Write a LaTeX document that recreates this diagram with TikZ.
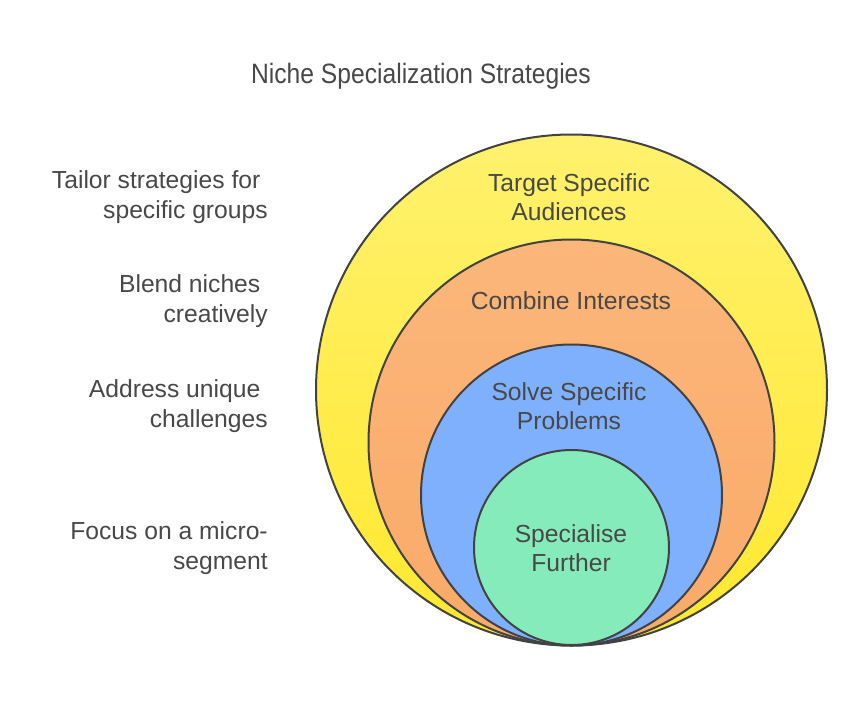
\documentclass[tikz,border=0pt]{standalone}
\usepackage{fontspec}
\setmainfont{Liberation Sans}
\newfontfamily\titlefont[FakeStretch=0.88]{Liberation Sans}
\usepackage{tikz}
\usepackage{xcolor}
\usetikzlibrary{positioning, calc}
\definecolor{textGrey}{RGB}{72, 72, 72}
\definecolor{edgeGrey}{RGB}{66, 66, 66}
\definecolor{yellowTop}{RGB}{255, 241, 110}
\definecolor{yellowBottom}{RGB}{255, 232, 46}
\definecolor{orangeTop}{RGB}{252, 182, 122}
\definecolor{orangeBottom}{RGB}{249, 170, 104}
\definecolor{blueFill}{RGB}{127, 176, 254}
\definecolor{greenFill}{RGB}{134, 235, 187}

\begin{document}
\begin{tikzpicture}[x=0.75pt, y=-0.75pt,
        ring/.style={draw=edgeGrey, line width=1.5pt},
        ringlabel/.style={text=textGrey, align=center, inner sep=0pt, font=\fontsize{18.5}{22}\selectfont},
        sidelabel/.style={text=textGrey, align=right, anchor=east, inner sep=0pt, font=\fontsize{18.5}{22}\selectfont}]
    \useasboundingbox (0,0) rectangle (858,708);

    % Title
    \node[text=textGrey, font=\titlefont\fontsize{21}{24}\selectfont] (title) at (421,76) {Niche Specialization Strategies};

    % Nested circles, all touching at the bottom
    \draw[ring, top color=yellowTop, bottom color=yellowBottom] (571.5,390) circle[radius=255.5];
    \draw[ring, top color=orangeTop, bottom color=orangeBottom] (571.5,442.5) circle[radius=203];
    \draw[ring, fill=blueFill] (571.5,495) circle[radius=150.5];
    \draw[ring, fill=greenFill] (571.5,547.5) circle[radius=97.5];

    % Circle labels
    \node[ringlabel] (target) at (569,197) {Target Specific\\Audiences};
    \node[ringlabel] (combine) at (571,301) {Combine Interests};
    \node[ringlabel] (solve) at (569,406) {Solve Specific\\Problems};
    \node[ringlabel] (further) at (571,548) {Specialise\\Further};

    % Side descriptions
    \node[sidelabel] (tailor) at (268,197) {Tailor strategies for\hspace*{0.3em}\\specific groups};
    \node[sidelabel] (blend) at (268,301) {Blend niches\hspace*{0.3em}\\creatively};
    \node[sidelabel] (address) at (268,406) {Address unique\hspace*{0.3em}\\challenges};
    \node[sidelabel] (focus) at (268,548) {Focus on a micro-\\segment};
\end{tikzpicture}
\end{document}
